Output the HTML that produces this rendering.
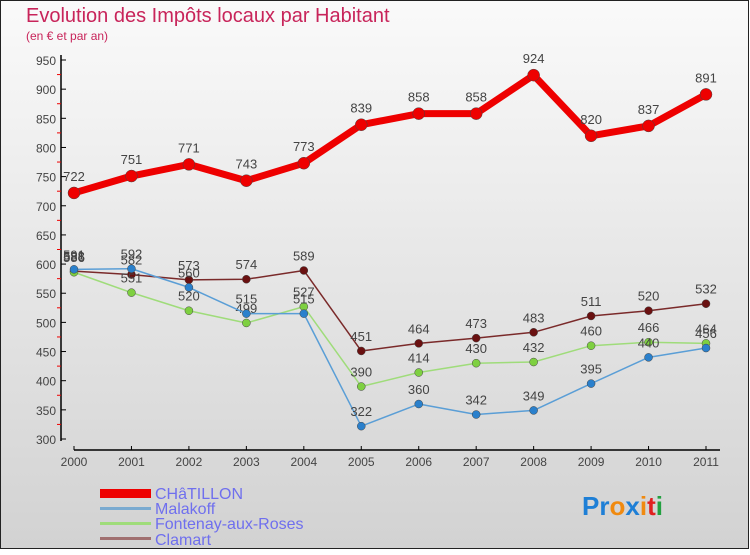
<!DOCTYPE html>
<html><head><meta charset="utf-8"><style>
body{margin:0}
#c{width:750px;height:550px;position:relative;font-family:"Liberation Sans",sans-serif}
</style></head><body>
<div id="c">
<svg id="s" width="750" height="550" xmlns="http://www.w3.org/2000/svg">
<defs><linearGradient id="bg" x1="0" y1="0" x2="0" y2="1"><stop offset="0" stop-color="#fafafa"/><stop offset="1" stop-color="#d2d2d2"/></linearGradient></defs>
<rect x="0.5" y="0.5" width="748" height="548" fill="url(#bg)" stroke="#222"/>
<text x="26" y="22" font-size="20" fill="#c8245a">Evolution des Impôts locaux par Habitant</text>
<text x="26" y="40" font-size="12" fill="#c8245a">(en € et par an)</text>
<g id="axes"></g><g id="series"></g>
<g>
<rect x="100" y="489" width="51" height="9" fill="#e00"/>
<text x="155" y="499" font-size="16" fill="#6f6fee">CHâTILLON</text>
<rect x="100" y="507" width="51" height="3" fill="#7aaad0"/>
<text x="155" y="514" font-size="16" fill="#6f6fee">Malakoff</text>
<rect x="100" y="522" width="51" height="3" fill="#9fdc7a"/>
<text x="155" y="529" font-size="16" fill="#6f6fee">Fontenay-aux-Roses</text>
<rect x="100" y="537" width="51" height="3" fill="#a07070"/>
<text x="155" y="545" font-size="16" fill="#6f6fee">Clamart</text>
</g>
<text x="582" y="515" font-size="26" font-weight="bold"><tspan fill="#1e7fd6">Pr</tspan><tspan fill="#f08a10">o</tspan><tspan fill="#1e7fd6">x</tspan><tspan fill="#f08a10">i</tspan><tspan fill="#e02020">t</tspan><tspan fill="#22a040">i</tspan></text>
</svg>
</div>
<script>
const years=[2000,2001,2002,2003,2004,2005,2006,2007,2008,2009,2010,2011];
const chatillon=[722,751,771,743,773,839,858,858,924,820,837,891];
const malakoff=[591,592,560,515,515,322,360,342,349,395,440,456];
const fontenay=[586,551,520,499,527,390,414,430,432,460,466,464];
const clamart=[588,582,573,574,589,451,464,473,483,511,520,532];
const yTicks=[300,350,400,450,500,550,600,650,700,750,800,850,900,950];
const NS="http://www.w3.org/2000/svg";
function X(i){return 74+i*(706-74)/11;}
function Y(v){return 439-(v-300)*(439-60)/650;}
function mk(t,a,p){const e=document.createElementNS(NS,t);for(const k in a)e.setAttribute(k,a[k]);p.appendChild(e);return e;}
const ax=document.getElementById('axes');
const ya=mk('line',{x1:61,y1:55,x2:61,y2:441,stroke:'#000','stroke-width':1.5},ax);


yTicks.forEach(v=>{
 mk('line',{x1:61,y1:Y(v),x2:66,y2:Y(v),stroke:'#000'},ax);
 if(v<950)mk('line',{x1:57,y1:Y(v+25),x2:61,y2:Y(v+25),stroke:'#e00'},ax);
 const t=mk('text',{x:56,y:Y(v)+5,'font-size':12,fill:'#444','text-anchor':'end'},ax);
 t.textContent=v;
 
 
});
const xa=mk('line',{x1:74,y1:450,x2:720,y2:450,stroke:'#000','stroke-width':1.5},ax);


years.forEach((y,i)=>{
 mk('line',{x1:X(i),y1:446,x2:X(i),y2:450,stroke:'#000'},ax);
 const t=mk('text',{x:X(i),y:466,'font-size':12,fill:'#444','text-anchor':'middle'},ax);
 t.textContent=y;
 
 
});
const sg=document.getElementById('series');
function draw(vals,name,color,dot,w,r){
 const g=mk('g',{},sg);
 
 
 const pl=mk('polyline',{points:vals.map((v,i)=>X(i)+','+Y(v)).join(' '),fill:'none',stroke:color,'stroke-width':w,'stroke-linejoin':'round'},g);
 
 
 vals.forEach((v,i)=>{
  const c=mk('circle',{cx:X(i),cy:Y(v),r:r,fill:dot,stroke:'#444','stroke-width':0.5},g);
  
  
  const t=mk('text',{x:X(i),y:Y(v)-(r+6),'font-size':13,fill:'#444','text-anchor':'middle'},g);
  t.textContent=v;
  
  
 });
}
draw(clamart,'clamart','#7a2a2a','#6a1010',1.5,4);
draw(fontenay,'fontenay','#9fdc7a','#7ed040',1.5,4);
draw(malakoff,'malakoff','#5a9ed6','#2a80cc',1.5,4);
draw(chatillon,'chatillon','#e00','#e00',7,6);
</script>
</body></html>
